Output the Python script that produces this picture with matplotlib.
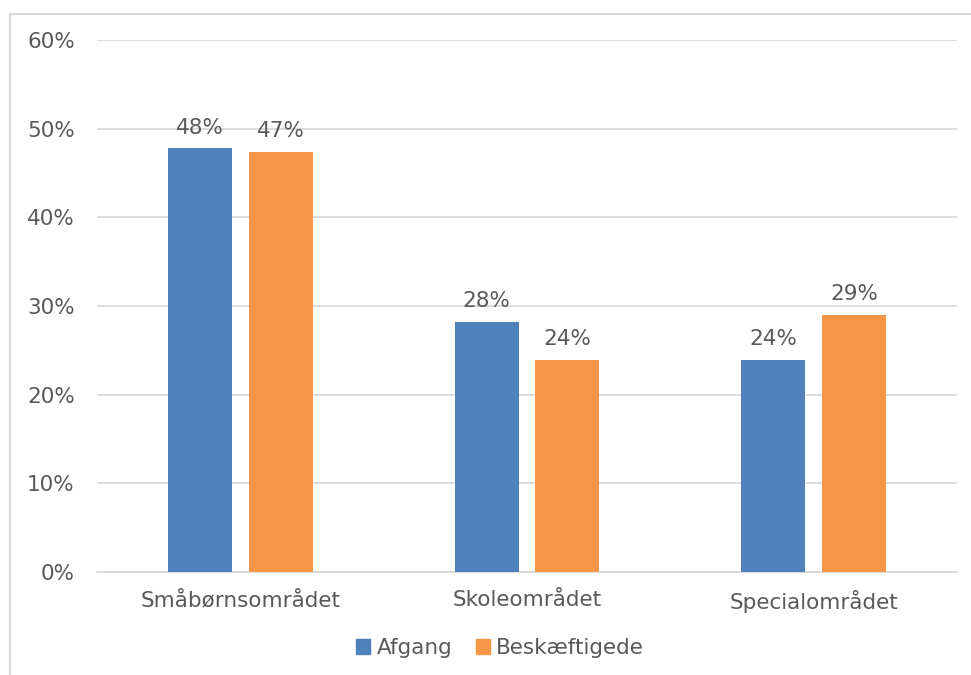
import matplotlib.pyplot as plt
import matplotlib.patches as mpatches
import numpy as np

# data
categories = ['Småbørnsområdet', 'Skoleområdet', 'Specialområdet']
afgang = [47.8, 28.2, 23.9]
beskaeftigede = [47.4, 23.9, 29.0]
series_names = ['Afgang', 'Beskæftigede']
yticks = [0, 10, 20, 30, 40, 50, 60]

blue = '#4F81BD'
orange = '#F79646'
txt = '#595959'
fs = 15.5

plt.rcParams['font.family'] = ['DejaVu Sans']

fig = plt.figure(figsize=(9.71, 6.75), dpi=100)
ax = fig.add_axes([97 / 971, 1 - 572 / 675, 860 / 971, 532 / 675])

x = np.arange(len(categories))
w = 0.223
off = 0.141
b1 = ax.bar(x - off, afgang, w, color=blue, label=series_names[0], zorder=3)
b2 = ax.bar(x + off, beskaeftigede, w, color=orange, label=series_names[1], zorder=3)

# data labels above the bars
for bars, vals in ((b1, afgang), (b2, beskaeftigede)):
    for rect, v in zip(bars, vals):
        ax.text(rect.get_x() + rect.get_width() / 2, v + 1.2, '%d%%' % round(v),
                ha='center', va='bottom', fontsize=fs, color=txt, zorder=4)

ax.set_xlim(-0.5, 2.5)
ax.set_ylim(0, 60)
ax.set_yticks(yticks)
ax.set_yticklabels(['%d%%' % t for t in yticks])
ax.set_xticks(x)
ax.set_xticklabels(categories)
ax.tick_params(axis='both', length=0, labelsize=fs, labelcolor=txt)
ax.tick_params(axis='y', pad=16)
ax.tick_params(axis='x', pad=13)
ax.grid(axis='y', color='#D9D9D9', linewidth=1.3, zorder=0)
for s in ('top', 'right', 'left'):
    ax.spines[s].set_visible(False)
ax.spines['bottom'].set_color('#D9D9D9')
ax.spines['bottom'].set_linewidth(1.3)

handles = [mpatches.Patch(color=blue, label=series_names[0]),
           mpatches.Patch(color=orange, label=series_names[1])]
fig.legend(handles=handles, loc='center', bbox_to_anchor=(500 / 971, 1 - 648 / 675),
           ncol=2, frameon=False, fontsize=fs, handlelength=0.65, handleheight=0.65,
           handletextpad=0.3, columnspacing=1.1, labelcolor=txt)

# outer chart frame (only left and top edges visible)
fig.add_artist(plt.Line2D([10 / 971, 10 / 971], [0, 1 - 14 / 675], transform=fig.transFigure,
                          color='#D9D9D9', linewidth=1.5))
fig.add_artist(plt.Line2D([10 / 971, 1], [1 - 14 / 675, 1 - 14 / 675], transform=fig.transFigure,
                          color='#D9D9D9', linewidth=1.5))

fig.savefig('out.png', dpi=100)
